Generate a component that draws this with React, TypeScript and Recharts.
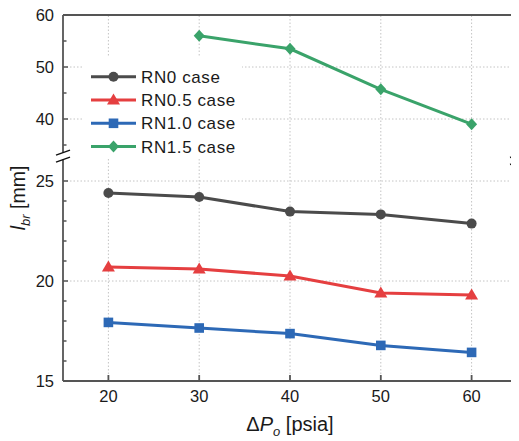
import React from 'react';
import { LineChart, Line, XAxis, YAxis, ReferenceLine, Legend } from 'recharts';

// ---- data ----
const pressures = [20, 30, 40, 50, 60];
const rn0 = [24.4, 24.2, 23.47, 23.33, 22.87];
const rn05 = [20.7, 20.6, 20.25, 19.4, 19.3];
const rn10 = [17.93, 17.65, 17.37, 16.78, 16.43];
const rn15: (number | null)[] = [null, 56.0, 53.5, 45.7, 39.0];
const seriesNames = ['RN0 case', 'RN0.5 case', 'RN1.0 case', 'RN1.5 case'];
const xTicks = [20, 30, 40, 50, 60];
const yMajorLower = [15, 20, 25];
const yMajorUpper = [40, 50, 60];
const yMinorLower = [16, 17, 18, 19, 21, 22, 23, 24];
const yMinorUpper = [35, 45, 55];

// ---- broken-axis transform ----
const T = (v: number) => (v <= 30 ? v : 28.1 + (v - 40) * 0.26);
const Y_DOMAIN: [number, number] = [15, T(60)];
const X_DOMAIN: [number, number] = [15, 65];

const FONT = '"Liberation Sans", Arial, sans-serif';
const AXIS = '#555555';
const GRID = '#c4c4c4';
const COLORS = ['#4b4b4b', '#e53f40', '#2d69b6', '#3aa36a'];
const KEYS = ['rn0', 'rn05', 'rn10', 'rn15'];
const SHAPES = ['circle', 'triangle', 'square', 'diamond'];

const data = pressures.map((p, i) => ({
  p,
  rn0: T(rn0[i]),
  rn05: T(rn05[i]),
  rn10: T(rn10[i]),
  rn15: rn15[i] == null ? null : T(rn15[i] as number),
}));

const k = (v: number) => v.toFixed(3);
const yInfo = new Map<string, { label: string; major: boolean }>();
yMajorLower.forEach((v) => yInfo.set(k(T(v)), { label: String(v), major: true }));
yMajorUpper.forEach((v) => yInfo.set(k(T(v)), { label: String(v), major: true }));
yMinorLower.forEach((v) => yInfo.set(k(T(v)), { label: '', major: false }));
yMinorUpper.forEach((v) => yInfo.set(k(T(v)), { label: '', major: false }));
const yTicks = [...yMajorLower, ...yMinorLower, ...yMinorUpper, ...yMajorUpper].map(T).sort((a, b) => a - b);
const hGrid = [20, 25, 40, 50].map(T);

const YTick = (props: any) => {
  const { x, y, payload } = props;
  const info = yInfo.get(k(payload.value));
  if (!info) return <g />;
  return (
    <g>
      <line x1={x} x2={x + (info.major ? 5 : 3.5)} y1={y} y2={y} stroke={AXIS} strokeWidth={1.5} />
      {info.major && (
        <text x={x - 9} y={y} dy="0.35em" textAnchor="end" fontSize={16.5} fill="#1a1a1a" fontFamily={FONT}>
          {info.label}
        </text>
      )}
    </g>
  );
};

const XTick = (props: any) => {
  const { x, y, payload } = props;
  return (
    <g>
      <line x1={x} x2={x} y1={y} y2={y - 6} stroke={AXIS} strokeWidth={1.8} />
      <text x={x} y={y + 15} dy="0.35em" textAnchor="middle" fontSize={16.5} fill="#1a1a1a" fontFamily={FONT}>
        {payload.value}
      </text>
    </g>
  );
};

const XTitle = (props: any) => {
  const vb = props.viewBox || {};
  const cx = vb.x + vb.width / 2;
  return (
    <text x={cx} y={vb.y + 50} textAnchor="middle" fontSize={20} fill="#1a1a1a" fontFamily={FONT}>
      <tspan>Δ</tspan>
      <tspan fontStyle="italic">P</tspan>
      <tspan fontStyle="italic" fontSize={13} dy={5}>o</tspan>
      <tspan dy={-5}> [psia]</tspan>
    </text>
  );
};

const YTitle = (props: any) => {
  const vb = props.viewBox || {};
  const cy = vb.y + vb.height / 2;
  const tx = 17;
  return (
    <text x={tx} y={cy} transform={`rotate(-90 ${tx} ${cy})`} textAnchor="middle" fontSize={19.5} fill="#1a1a1a" fontFamily={FONT}>
      <tspan fontStyle="italic">l</tspan>
      <tspan fontStyle="italic" fontSize={13} dy={5}>br</tspan>
      <tspan dy={-5}> [mm]</tspan>
    </text>
  );
};

const marker = (shape: string, cx: number, cy: number, color: string, key?: any) => {
  switch (shape) {
    case 'circle':
      return <circle key={key} cx={cx} cy={cy} r={5} fill={color} />;
    case 'triangle':
      return <polygon key={key} points={`${cx},${cy - 6.5} ${cx - 6.5},${cy + 4.5} ${cx + 6.5},${cy + 4.5}`} fill={color} />;
    case 'square':
      return <rect key={key} x={cx - 4.8} y={cy - 4.8} width={9.6} height={9.6} fill={color} />;
    default:
      return <polygon key={key} points={`${cx},${cy - 6} ${cx + 5.5},${cy} ${cx},${cy + 6} ${cx - 5.5},${cy}`} fill={color} />;
  }
};

const makeDot = (i: number) => (props: any) => {
  const { cx, cy, index, value } = props;
  if (cx == null || cy == null || value == null || Number.isNaN(cy)) return <g key={`d${i}-${index}`} />;
  return marker(SHAPES[i], cx, cy, COLORS[i], `d${i}-${index}`);
};

const LegendBox = () => (
  <svg width={160} height={101} style={{ display: 'block' }}>
    <rect x={0} y={0} width={160} height={101} fill="#ffffff" />
    {seriesNames.map((name, i) => {
      const cy = 19.7 + i * 23.3;
      return (
        <g key={name}>
          <line x1={9} x2={54} y1={cy} y2={cy} stroke={COLORS[i]} strokeWidth={3} />
          {marker(SHAPES[i], 31.5, cy, COLORS[i])}
          <text x={59} y={cy} dy="0.35em" fontSize={17} letterSpacing={0.6} fill="#1a1a1a" fontFamily={FONT}>
            {name}
          </text>
        </g>
      );
    })}
  </svg>
);

const BH = 26.42; // upper break
const BL = 26.07; // lower break
const RH = 26.3;
const RL = 25.95;
const DX = 0.77;
const DY = 0.125;

export default function App() {
  const top = Y_DOMAIN[1];
  return (
    <div style={{ marginTop: -3 }}>
      <LineChart width={511} height={436} data={data} margin={{ top: 10, right: 2, bottom: 0, left: 0 }}>
        <XAxis
          dataKey="p"
          type="number"
          domain={X_DOMAIN}
          ticks={xTicks}
          interval={0}
          axisLine={false}
          tickLine={false}
          tickSize={0}
          tickMargin={0}
          height={60}
          tick={<XTick />}
          label={<XTitle />}
          allowDataOverflow
        />
        <YAxis
          type="number"
          domain={Y_DOMAIN}
          ticks={yTicks}
          interval={0}
          axisLine={false}
          tickLine={false}
          tickSize={0}
          tickMargin={0}
          width={55}
          tick={<YTick />}
          label={<YTitle />}
          allowDataOverflow
        />
        {xTicks.map((x) => (
          <ReferenceLine key={`vx${x}`} x={x} stroke={GRID} strokeDasharray="1.5 2" strokeWidth={1} />
        ))}
        {hGrid.map((y) => (
          <ReferenceLine key={`hy${y}`} y={y} stroke={GRID} strokeDasharray="1.5 2" strokeWidth={1} />
        ))}
        {/* frame */}
        <ReferenceLine segment={[{ x: 15, y: 15 }, { x: 65, y: 15 }]} stroke={AXIS} strokeWidth={1.8} ifOverflow="visible" />
        <ReferenceLine segment={[{ x: 15, y: top }, { x: 65, y: top }]} stroke={AXIS} strokeWidth={1.8} ifOverflow="visible" />
        <ReferenceLine segment={[{ x: 15, y: 15 }, { x: 15, y: BL }]} stroke={AXIS} strokeWidth={1.8} ifOverflow="visible" />
        <ReferenceLine segment={[{ x: 15, y: BH }, { x: 15, y: top }]} stroke={AXIS} strokeWidth={1.8} ifOverflow="visible" />
        <ReferenceLine segment={[{ x: 65, y: 15 }, { x: 65, y: RL }]} stroke={AXIS} strokeWidth={1.8} ifOverflow="visible" />
        <ReferenceLine segment={[{ x: 65, y: RH }, { x: 65, y: top }]} stroke={AXIS} strokeWidth={1.8} ifOverflow="visible" />
        {/* break marks */}
        <ReferenceLine segment={[{ x: 15 - DX, y: BH - DY }, { x: 15 + DX, y: BH + DY }]} stroke="#111" strokeWidth={1.4} ifOverflow="visible" />
        <ReferenceLine segment={[{ x: 15 - DX, y: BL - DY }, { x: 15 + DX, y: BL + DY }]} stroke="#111" strokeWidth={1.4} ifOverflow="visible" />
        <ReferenceLine segment={[{ x: 65 - DX, y: RH - DY }, { x: 65 + DX, y: RH + DY }]} stroke="#111" strokeWidth={1.4} ifOverflow="visible" />
        <ReferenceLine segment={[{ x: 65 - DX, y: RL - DY }, { x: 65 + DX, y: RL + DY }]} stroke="#111" strokeWidth={1.4} ifOverflow="visible" />
        {KEYS.map((key, i) => (
          <Line
            key={key}
            dataKey={key}
            name={seriesNames[i]}
            stroke={COLORS[i]}
            strokeWidth={3}
            dot={makeDot(i)}
            activeDot={false}
            isAnimationActive={false}
            connectNulls={false}
          />
        ))}
        <Legend
          layout="horizontal"
          verticalAlign="middle"
          align="center"
          wrapperStyle={{ position: 'absolute', left: 74, top: 52, width: 160, height: 101 }}
          content={() => <LegendBox />}
        />
      </LineChart>
    </div>
  );
}
